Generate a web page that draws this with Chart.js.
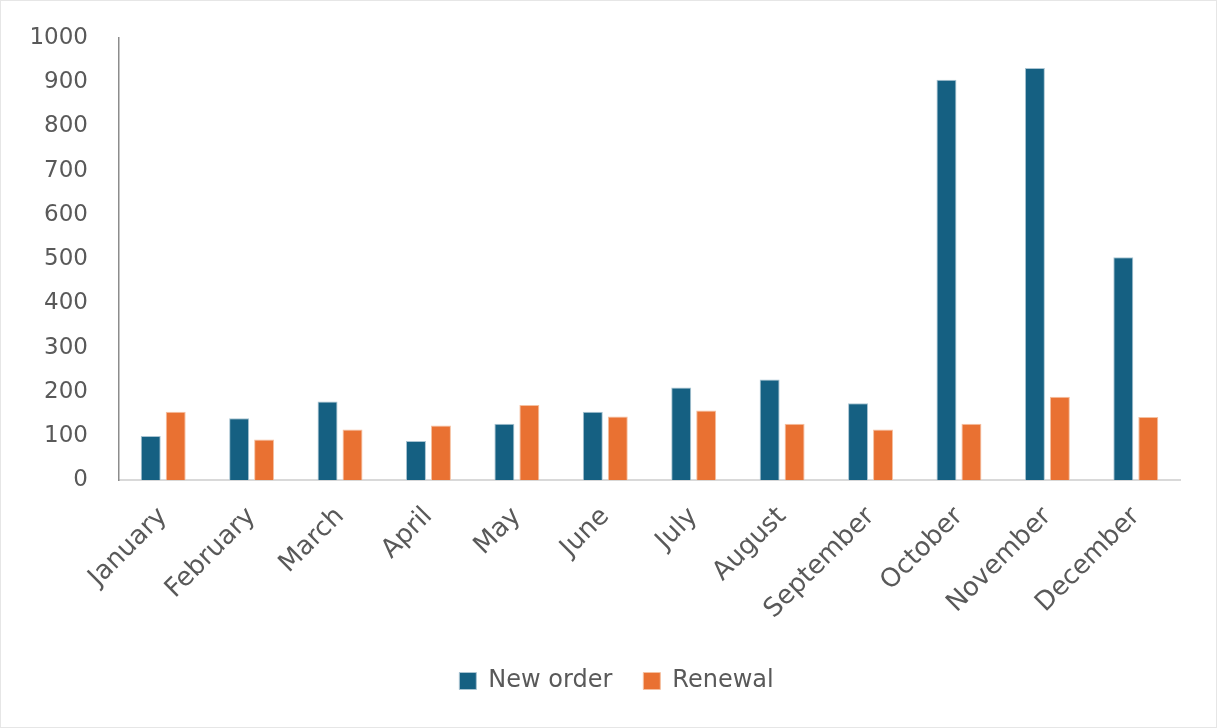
<!DOCTYPE html>
<html lang="en">
<head>
    <meta charset="UTF-8">
    <title>New order vs Renewal</title>
    <style>
        body {
            margin: 0;
            padding: 0;
            background: #fff;
        }

        #wrap {
            width: 1217px;
            height: 728px;
            box-sizing: border-box;
            border: 1px solid #e6e6e6;
        }
    </style>
</head>
<body>
    <div id="wrap"><canvas id="orderChart" width="1215" height="726"></canvas></div>

    <script src="https://cdn.jsdelivr.net/npm/chart.js"></script>
    <script>
        // values
        const months = ['January', 'February', 'March', 'April', 'May', 'June',
            'July', 'August', 'September', 'October', 'November', 'December'];
        const newOrder = [100, 140, 178, 89, 128, 155, 210, 228, 174, 905, 932, 504];
        const renewal = [155, 92, 115, 124, 170, 144, 158, 128, 115, 128, 189, 143];

        const textColor = '#595959';
        const fontFamily = '"DejaVu Sans", Verdana, sans-serif';

        const ctx = document.getElementById('orderChart').getContext('2d');
        new Chart(ctx, {
            type: 'bar',
            data: {
                labels: months,
                datasets: [
                    {
                        label: 'New order',
                        data: newOrder,
                        backgroundColor: '#156082',
                        borderColor: '#a9c4d2',
                        borderWidth: 1,
                        categoryPercentage: 0.565,
                        barPercentage: 0.8
                    },
                    {
                        label: 'Renewal',
                        data: renewal,
                        backgroundColor: '#e97132',
                        borderColor: '#f5c0a0',
                        borderWidth: 1,
                        categoryPercentage: 0.565,
                        barPercentage: 0.8
                    }
                ]
            },
            options: {
                responsive: false,
                animation: false,
                layout: {
                    padding: { top: 33, right: 0, bottom: 24, left: 16 }
                },
                scales: {
                    x: {
                        grid: { display: false },
                        border: { color: '#d9d9d9', width: 2 },
                        ticks: {
                            color: textColor,
                            font: { family: fontFamily, size: 26 },
                            minRotation: 45,
                            maxRotation: 45,
                            padding: 13
                        }
                    },
                    y: {
                        min: 0,
                        max: 1000,
                        grid: { display: false },
                        border: { color: '#8c8c8c', width: 1.5 },
                        ticks: {
                            stepSize: 100,
                            color: textColor,
                            font: { family: fontFamily, size: 23 },
                            padding: 23,
                            callback: v => String(v)
                        },
                        afterFit: function (scale) {
                            scale.width = 102;
                        }
                    },
                    // empty right-hand axis, only reserves the blank margin on the right
                    spacer: {
                        type: 'linear',
                        position: 'right',
                        grid: { display: false },
                        border: { display: false },
                        ticks: { display: false },
                        afterFit: function (scale) {
                            scale.width = 36;
                        }
                    }
                },
                plugins: {
                    legend: {
                        position: 'bottom',
                        labels: {
                            color: textColor,
                            font: { family: fontFamily, size: 24 },
                            boxWidth: 17,
                            boxHeight: 17,
                            padding: 31
                        }
                    },
                    tooltip: { enabled: false }
                }
            }
        });
    </script>
</body>
</html>
